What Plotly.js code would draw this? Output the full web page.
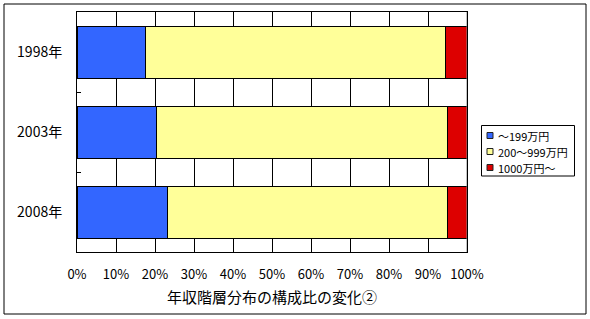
<!DOCTYPE html>
<html>
<head>
<meta charset="utf-8">
<script src="https://cdn.plot.ly/plotly-3.0.1.min.js"></script>
<style>html,body{margin:0;padding:0;background:#fff;}#chart{width:590px;height:319px;}</style>
</head>
<body>
<div id="chart"></div>
<script>
var years = ["1998年", "2003年", "2008年"];
var seriesNames = ["～199万円", "200～999万円", "1000万円～"];
var lowIncome = [17.5, 20.3, 23.3];
var midIncome = [77.0, 74.8, 71.8];
var highIncome = [5.5, 4.9, 4.9];
var xTickVals = [0, 10, 20, 30, 40, 50, 60, 70, 80, 90, 100];
var xTickText = ["0%", "10%", "20%", "30%", "40%", "50%", "60%", "70%", "80%", "90%", "100%"];
var colors = ["#3366FF", "#FFFF99", "#DD0000"];
var values = [lowIncome, midIncome, highIncome];

var FONT = '"Noto Sans CJK JP", "Noto Sans", sans-serif';

var traces = values.map(function (v, i) {
  return {
    type: "bar",
    orientation: "h",
    name: seriesNames[i],
    y: years,
    x: v,
    marker: { color: colors[i], line: { color: "#000", width: 1 } },
    hoverinfo: "x+name"
  };
});

var L = 77, R = 123, T = 12, B = 67, W = 590, H = 319;
var pw = W - L - R, ph = H - T - B;
function px(x) { return (x - L) / pw; }
function py(y) { return (H - B - y) / ph; }

var shapes = [
  { type: "line", xref: "x", yref: "paper", x0: 100, x1: 100, y0: 0, y1: 1,
    line: { color: "#888", width: 1 } },
  { type: "rect", xref: "paper", yref: "paper",
    x0: px(4), x1: px(586), y0: py(314), y1: py(4),
    line: { color: "#000", width: 1 }, layer: "above" },
  // legend box
  { type: "rect", xref: "paper", yref: "paper",
    x0: px(481.5), x1: px(574.5), y0: py(176), y1: py(125.5),
    line: { color: "#000", width: 1 }, fillcolor: "#fff", layer: "above" }
];
var annotations = [];
var legendY = [135.5, 151.5, 167.5];
seriesNames.forEach(function (name, i) {
  var cy = legendY[i];
  shapes.push({ type: "rect", xref: "paper", yref: "paper",
    x0: px(487), x1: px(493), y0: py(cy + 3), y1: py(cy - 3),
    line: { color: "#222", width: 1 }, fillcolor: colors[i], layer: "above" });
  annotations.push({ xref: "paper", yref: "paper", x: px(496), y: py(cy),
    xanchor: "left", yanchor: "middle", showarrow: false, text: name,
    font: { size: 11, family: FONT, color: "#000" } });
});

var layout = {
  width: W, height: H,
  margin: { l: L, r: R, t: T, b: B, pad: 0 },
  paper_bgcolor: "#fff", plot_bgcolor: "#fff",
  barmode: "stack",
  bargap: 0.35,
  font: { family: FONT, color: "#000", size: 13 },
  showlegend: false,
  xaxis: {
    range: [0, 100],
    tickvals: xTickVals, ticktext: xTickText,
    showgrid: true, gridcolor: "#000", gridwidth: 1,
    showline: true, linecolor: "#000", linewidth: 1, mirror: true,
    ticks: "", ticklabelstandoff: 10,
    zeroline: false,
    tickfont: { size: 13 },
    title: { text: "年収階層分布の構成比の変化②", font: { size: 15 }, standoff: 10 }
  },
  yaxis: {
    type: "category",
    autorange: "reversed",
    showgrid: false,
    showline: true, linecolor: "#000", linewidth: 1, mirror: true,
    ticks: "inside", ticklen: 4, tickcolor: "#000", tickson: "boundaries",
    ticklabelstandoff: 11,
    tickfont: { size: 14 }
  },
  shapes: shapes,
  annotations: annotations
};

Plotly.newPlot("chart", traces, layout, { displayModeBar: false, staticPlot: true });
</script>
</body>
</html>
